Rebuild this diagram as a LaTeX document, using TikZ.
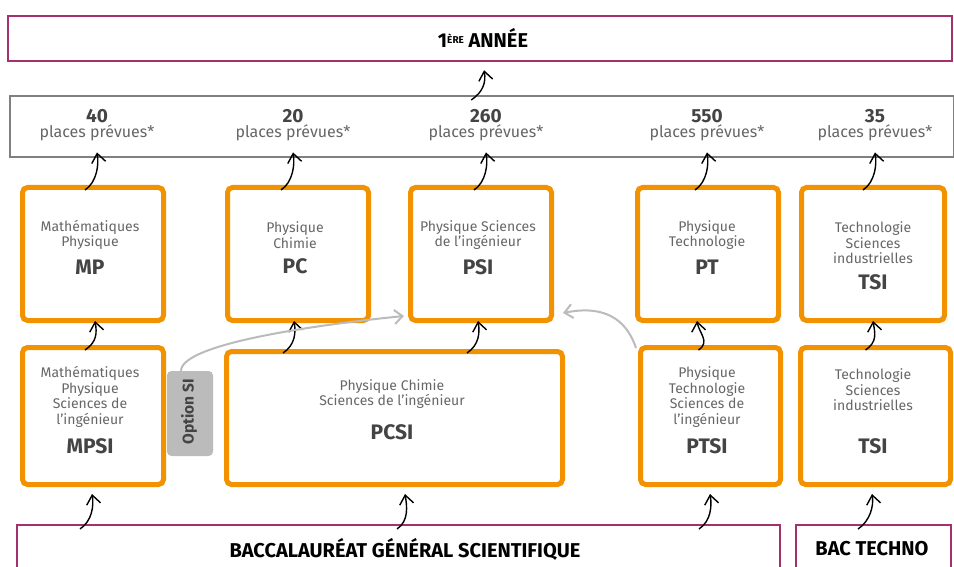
\documentclass[tikz,border=0pt]{standalone}
\usepackage{fontspec}
\setmainfont{Fira Sans}
\usetikzlibrary{arrows.meta}
\definecolor{orng}{HTML}{F39200}
\definecolor{mgt}{HTML}{A3306F}
\definecolor{frame}{HTML}{808080}
\definecolor{optgray}{HTML}{BBBBBB}
\definecolor{txt}{HTML}{666666}
\definecolor{lab}{HTML}{444444}
\tikzset{
  obox/.style={draw=orng, line width=5pt, rounded corners=5pt, minimum width=#1, anchor=north west, inner sep=0pt},
  mbox/.style={draw=mgt, line width=2.2pt, anchor=north west, inner sep=0pt},
  gbox/.style={draw=frame, line width=2.4pt, anchor=north west, inner sep=0pt},
  small/.style={text=txt, font=\fontsize{14}{15.5}\selectfont, align=center, inner sep=0pt},
  plc/.style={text=txt, font=\fontsize{16}{18}\selectfont, inner sep=0pt},
  big/.style={text=lab, font=\fontsize{21}{23}\selectfont\bfseries, inner sep=0pt},
  num/.style={text=lab, font=\fontsize{19}{21}\selectfont\bfseries, inner sep=0pt},
  head/.style={text=black, font=\fontsize{20}{22}\selectfont\bfseries, inner sep=0pt},
  arr/.style={-{Straight Barb[length=9pt,width=14pt]}, line width=1.4pt, black},
  garr/.style={-{Straight Barb[length=8pt,width=14pt]}, line width=2pt, optgray},
}
\begin{document}
\begin{tikzpicture}[x=1pt,y=-1pt]
\useasboundingbox (0,0) rectangle (954,567);
% top boxes
\node[mbox, minimum width=944pt, minimum height=45pt] (annee) at (7,15) {};
\node[head] (anneet) at (483,38) {1\raisebox{4pt}{\fontsize{10}{10}\selectfont ÈRE} ANNÉE};
\node[gbox, minimum width=944pt, minimum height=61pt] (places) at (9,95) {};
% numbers
\foreach \n/\x/\v in {p1/97/40, p2/293/20, p3/486/260, p4/707/550, p5/875/35}{
  \node[num] (\n n) at (\x,116) {\v};
  \node[plc] (\n t) at (\x,133) {places prévues*};
}
% row 1
\node[obox=141pt, minimum height=133pt] (mp) at (20,185) {};
\node[obox=141pt, minimum height=133pt] (pc) at (225,185) {};
\node[obox=141pt, minimum height=133pt] (psi) at (408,185) {};
\node[obox=141pt, minimum height=133pt] (pt) at (635,185) {};
\node[obox=143pt, minimum height=133pt] (tsi) at (799,185) {};
\node[small] (mpt) at (90,235) {Mathématiques\\Physique};
\node[big] (mpl) at (90,267) {MP};
\node[small] (pct) at (295,235) {Physique\\Chimie};
\node[big] (pcl) at (295,266) {PC};
\node[small] (psit) at (478,235) {Physique Sciences\\de l’ingénieur};
\node[big] (psil) at (478,267) {PSI};
\node[small] (ptt) at (707,235) {Physique\\Technologie};
\node[big] (ptl) at (707,267) {PT};
\node[small] (tsit) at (873,243) {Technologie\\Sciences\\industrielles};
\node[big] (tsil) at (873,282) {TSI};
% row 2
\node[obox=141pt, minimum height=137pt] (mpsi) at (20,345) {};
\node[draw=optgray, fill=optgray, line width=1pt, rounded corners=4pt, minimum width=45pt, minimum height=84pt, anchor=north west] (opt) at (167,371) {};
\node[rotate=90, text=lab, font=\fontsize{15.5}{17}\selectfont\bfseries, inner sep=0pt] (optt) at (189,412) {Option SI};
\node[obox=336pt, minimum height=133pt] (pcsi) at (224,349) {};
\node[obox=140pt, minimum height=137pt] (ptsi) at (638,345) {};
\node[obox=150pt, minimum height=137pt] (tsib) at (798,345) {};
\node[small] (mpsit) at (90,397) {Mathématiques\\Physique\\Sciences de\\l’ingénieur};
\node[big] (mpsil) at (90,446) {MPSI};
\node[small] (pcsit) at (392,394) {Physique Chimie\\Sciences de l’ingénieur};
\node[big] (pcsil) at (392,432) {PCSI};
\node[small] (ptsit) at (707,397) {Physique\\Technologie\\Sciences de\\l’ingénieur};
\node[big] (ptsil) at (707,446) {PTSI};
\node[small] (tsibt) at (873,390) {Technologie\\Sciences\\industrielles};
\node[big] (tsibl) at (873,446) {TSI};
% bottom
\node[mbox, minimum width=763pt, minimum height=60pt] (bac) at (16,524) {};
\node[mbox, minimum width=155pt, minimum height=60pt] (bact) at (795,524) {};
\node[head] (bacl) at (405,549) {BACCALAURÉAT GÉNÉRAL SCIENTIFIQUE};
\node[head] (bactl) at (872,549) {BAC TECHNO};
% arrows: places -> annee
\draw[arr] ([xshift=-11pt,yshift=-5pt]places.north) .. controls +(12,-8) and +(2,12) .. ([xshift=4pt,yshift=-8pt]annee.south);
% row1 -> places
\foreach \b/\x/\y in {mp/97/85, pc/293/281, psi/486/474, pt/707/695, tsi/875/863}{
  \draw[arr] ([yshift=-5pt]\b.north -| \y,0) .. controls +(12,-8) and +(2,12) .. ([yshift=6pt]places.south -| \x,0);
}
% row2 -> row1
\draw[arr] ([xshift=-8pt,yshift=-5pt]mpsi.north) .. controls +(12,-8) and +(2,12) .. ([xshift=2pt,yshift=2pt]mp.south);
\draw[arr] (283,353) .. controls +(12,-8) and +(2,12) .. ([yshift=2pt]pc.south -| 294,0);
\draw[arr] (467,353) .. controls +(12,-8) and +(2,12) .. ([yshift=2pt]psi.south -| 478,0);
\draw[arr] ([xshift=-12pt,yshift=-5pt]ptsi.north) .. controls +(12,-8) and +(2,12) .. ([yshift=2pt]pt.south -| 697,0);
\draw[arr] ([xshift=-10pt,yshift=-5pt]tsib.north) .. controls +(12,-8) and +(2,12) .. ([yshift=2pt]tsi.south -| 873,0);
% bottom -> row2
\draw[arr] ([yshift=-5pt]bac.north -| 80,0) .. controls +(12,-8) and +(2,12) .. ([yshift=-7pt]mpsi.south -| 92,0);
\draw[arr] ([yshift=-5pt]bac.north -| 397,0) .. controls +(12,-8) and +(2,12) .. ([yshift=-7pt]pcsi.south -| 405,0);
\draw[arr] ([yshift=-5pt]bac.north -| 699,0) .. controls +(12,-8) and +(2,12) .. ([yshift=-7pt]ptsi.south -| 710,0);
\draw[arr] ([yshift=-5pt]bact.north -| 858,0) .. controls +(12,-8) and +(2,12) .. ([yshift=-7pt]tsib.south -| 872,0);
% gray arrows
\draw[garr] ([xshift=-9pt]opt.north) .. controls +(0,-28) and +(-80,8) .. ([xshift=-4pt,yshift=7pt]psi.south west);
\draw[garr] ([xshift=-2pt,yshift=-3pt]ptsi.north west) .. controls +(-10,-30) and +(40,-8) .. ([xshift=9pt,yshift=10pt]psi.south east);
\end{tikzpicture}
\end{document}
